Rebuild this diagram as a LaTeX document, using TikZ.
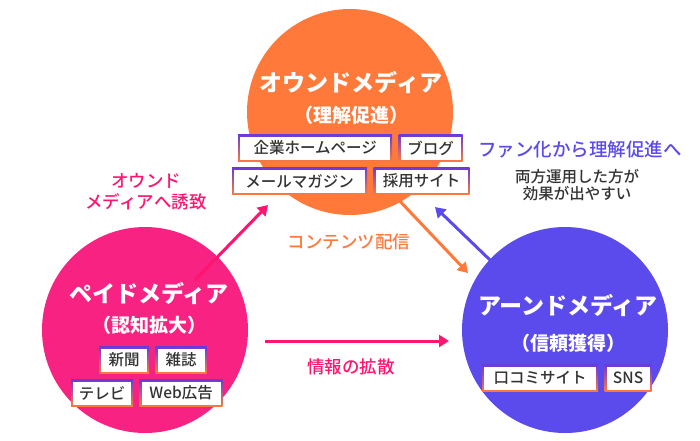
\documentclass[tikz,border=0pt]{standalone}
\usepackage{fontspec}
\setmainfont{Noto Sans CJK JP}
\newfontfamily\medium{Noto Sans CJK JP Medium}
\usetikzlibrary{arrows.meta,positioning,calc}
\definecolor{owned}{HTML}{FF7A3A}
\definecolor{paid}{HTML}{F72282}
\definecolor{earned}{HTML}{5B4AEC}
\definecolor{hot}{HTML}{FF1470}
\definecolor{ink}{HTML}{333333}
\definecolor{tagtop}{HTML}{6A3BDB}
\definecolor{tagmid}{HTML}{EC1F86}
\definecolor{tagbot}{HTML}{FF7A3A}
\tikzset{
  media/.style={circle, minimum size=206pt, inner sep=0pt},
  title/.style={text=white, font=\bfseries\fontsize{23}{26}\selectfont},
  sub/.style={text=white, font=\bfseries\fontsize{19}{22}\selectfont},
  tag/.style={minimum width=#1, minimum height=27pt, inner sep=0pt, text=ink,
    font=\medium\fontsize{15.5}{17}\selectfont,
    path picture={\shade[top color=tagtop, middle color=tagmid, bottom color=tagbot]
      (path picture bounding box.south west) rectangle (path picture bounding box.north east);
      \fill[white] ([shift={(2pt,2pt)}]path picture bounding box.south west)
        rectangle ([shift={(-2pt,-2pt)}]path picture bounding box.north east);}},
  flow/.style={-{Triangle[length=10pt, width=12pt]}, line width=3pt},
  note/.style={align=center, font=\medium\fontsize{17.5}{21}\selectfont},
}

\begin{document}
\begin{tikzpicture}[x=1pt, y=-1pt]
    \useasboundingbox (0,0) rectangle (700,440);
    \node[media, fill=owned] (o) at (350,112) {};
    \node[media, fill=paid] (p) at (145,330) {};
    \node[media, fill=earned] (e) at (565,330) {};

    \coordinate (a1) at (195,280); \coordinate (a2) at (268,205);
    \coordinate (b1) at (395,196); \coordinate (b2) at (468,273);
    \coordinate (c1) at (490,260); \coordinate (c2) at (435,207);
    \coordinate (d1) at (265,341); \coordinate (d2) at (449,341);
    \draw[flow, hot] (a1) -- (a2);
    \draw[flow, owned] (b1) -- (b2);
    \draw[flow, earned] (c1) -- (c2);
    \draw[flow, hot] (d1) -- (d2);

    \node[title] (ot) at (351,82) {オウンドメディア};
    \node[sub] (os) at (351,115) {（理解促進）};
    \node[tag=154pt, anchor=west] (o1) at (238,148) {企業ホームページ};
    \node[tag=64pt, right=6pt of o1] (o2) {ブログ};
    \node[tag=135pt, anchor=west] (o3) at (232,181) {メールマガジン};
    \node[tag=96pt, right=6pt of o3] (o4) {採用サイト};

    \node[title] (pt) at (149,293) {ペイドメディア};
    \node[sub] (ps) at (149,325) {（認知拡大）};
    \node[tag=50pt, anchor=west] (p1) at (99,360) {新聞};
    \node[tag=51pt, right=6pt of p1] (p2) {雑誌};
    \node[tag=62pt, anchor=west] (p3) at (71,393) {テレビ};
    \node[tag=83pt, right=6pt of p3] (p4) {Web広告};

    \node[title] (et) at (568,305) {アーンドメディア};
    \node[sub] (es) at (568,343) {（信頼獲得）};
    \node[tag=116pt, anchor=west] (e1) at (482,378) {口コミサイト};
    \node[tag=47pt, right=6pt of e1] (e2) {SNS};

    \node[note, text=hot] (na) at (146,192) {オウンド\\メディアへ誘致};
    \node[note, text=owned] (nb) at (349,242) {コンテンツ配信};
    \node[note, text=hot] (nd) at (351,367) {情報の拡散};
    \node[note, text=earned, font=\medium\fontsize{18.5}{21}\selectfont] (nc) at (580,149) {ファン化から理解促進へ};
    \node[note, text=ink, font=\medium\fontsize{15.5}{16.5}\selectfont] (nt) at (577,185) {両方運用した方が\\効果が出やすい};
  \end{tikzpicture}
\end{document}
